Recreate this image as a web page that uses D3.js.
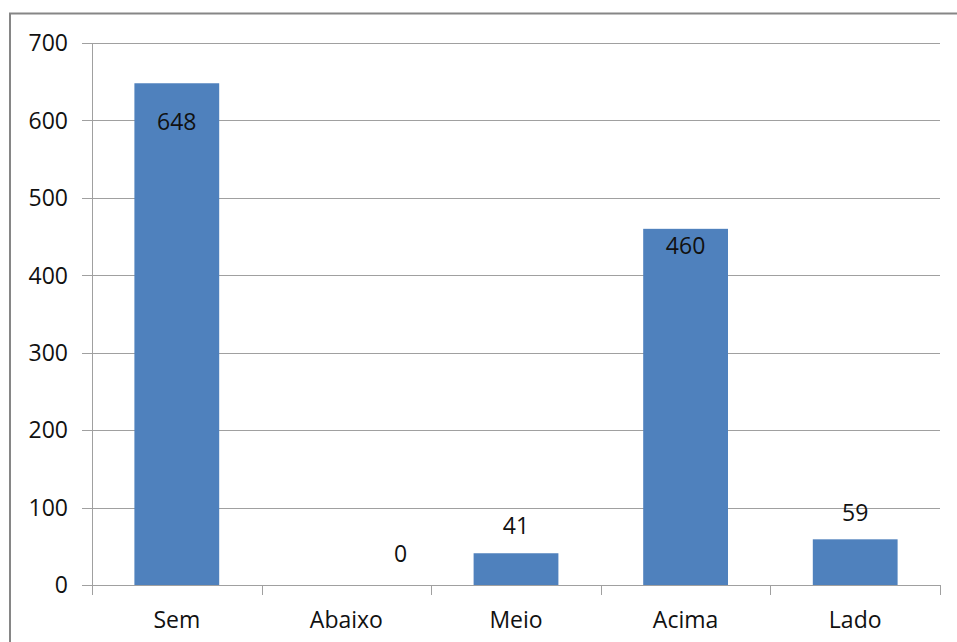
<!DOCTYPE html>
<html>
<head>
<meta charset="utf-8">
<script src="https://cdn.jsdelivr.net/npm/d3@7/dist/d3.min.js"></script>
<style>
  html, body { margin: 0; padding: 0; background: #fff; }
  svg { display: block; }
  text { font-family: "Open Sans", "Liberation Sans", sans-serif; fill: #111; }
</style>
</head>
<body>
<svg id="chart" width="957" height="642"></svg>
<script>
// Category names and counts
const categories = ["Sem", "Abaixo", "Meio", "Acima", "Lado"];
const values = [648, 0, 41, 460, 59];
const yTicks = [0, 100, 200, 300, 400, 500, 600, 700];

// Value label placement per bar: vertical offset of the baseline from the bar top,
// and horizontal shift from the bar centre (in fractions of a category step)
const labelDy = [47, -23, -19, 25, -18];
const labelDx = [0, 0.32, 0, 0, 0];

const FONT_SIZE = "23px";
const plot = { left: 92, right: 940, top: 43, bottom: 585 };

const svg = d3.select("#chart");

// Outer chart frame (extends past the right and bottom of the window)
svg.append("rect")
  .attr("x", 10).attr("y", 13.5)
  .attr("width", 960).attr("height", 660)
  .attr("fill", "#fff")
  .attr("stroke", "#868686")
  .attr("stroke-width", 2);

const x = d3.scaleBand()
  .domain(categories)
  .range([plot.left, plot.right])
  .paddingInner(0).paddingOuter(0);

const y = d3.scaleLinear()
  .domain([0, 700])
  .range([plot.bottom, plot.top]);

const step = x.step();
const barW = step * 0.5;

// Horizontal gridlines with short ticks to the left of the axis
const yAxis = d3.axisLeft(y)
  .tickValues(yTicks)
  .tickSize(plot.right - plot.left + 10)
  .tickSizeOuter(0)
  .tickPadding(14);

const gy = svg.append("g")
  .attr("transform", `translate(${plot.right},0)`)
  .call(yAxis);
gy.select(".domain").remove();
gy.selectAll(".tick line")
  .attr("stroke", "#a0a0a0")
  .attr("stroke-width", 1)
  .attr("shape-rendering", "crispEdges");
gy.selectAll(".tick text")
  .attr("x", -(plot.right - plot.left) - 24)
  .attr("dy", "0.34em")
  .style("font-size", FONT_SIZE)
  .style("font-family", "\"Open Sans\", \"Liberation Sans\", sans-serif")
  .attr("fill", "#111");

// Vertical value axis line
svg.append("line")
  .attr("x1", plot.left + 0.5).attr("x2", plot.left + 0.5)
  .attr("y1", plot.top).attr("y2", plot.bottom + 9)
  .attr("stroke", "#a0a0a0")
  .attr("shape-rendering", "crispEdges");

// Category axis with boundary ticks
const xAxisG = svg.append("g");
xAxisG.append("line")
  .attr("x1", plot.left).attr("x2", plot.right)
  .attr("y1", plot.bottom + 0.5).attr("y2", plot.bottom + 0.5)
  .attr("stroke", "#a0a0a0")
  .attr("shape-rendering", "crispEdges");
const boundaries = categories.map(c => x(c)).concat([x(categories[categories.length - 1]) + step]);
xAxisG.selectAll("line.bt")
  .data(boundaries)
  .join("line")
  .attr("class", "bt")
  .attr("x1", d => Math.round(d) + 0.5).attr("x2", d => Math.round(d) + 0.5)
  .attr("y1", plot.bottom).attr("y2", plot.bottom + 10)
  .attr("stroke", "#a0a0a0")
  .attr("shape-rendering", "crispEdges");
xAxisG.selectAll("text.cat")
  .data(categories)
  .join("text")
  .attr("class", "cat")
  .attr("x", d => x(d) + step / 2)
  .attr("y", 628)
  .attr("text-anchor", "middle")
  .style("font-size", FONT_SIZE)
  .text(d => d);

// Bars
svg.append("g").selectAll("rect")
  .data(values)
  .join("rect")
  .attr("x", (d, i) => x(categories[i]) + (step - barW) / 2)
  .attr("y", d => y(d))
  .attr("width", barW)
  .attr("height", d => y(0) - y(d))
  .attr("fill", "#4f81bd");

// Value labels
svg.append("g").selectAll("text")
  .data(values)
  .join("text")
  .attr("x", (d, i) => x(categories[i]) + step / 2 + labelDx[i] * step)
  .attr("y", (d, i) => y(d) + labelDy[i])
  .attr("text-anchor", "middle")
  .style("font-size", FONT_SIZE)
  .text(d => d);
</script>
</body>
</html>
